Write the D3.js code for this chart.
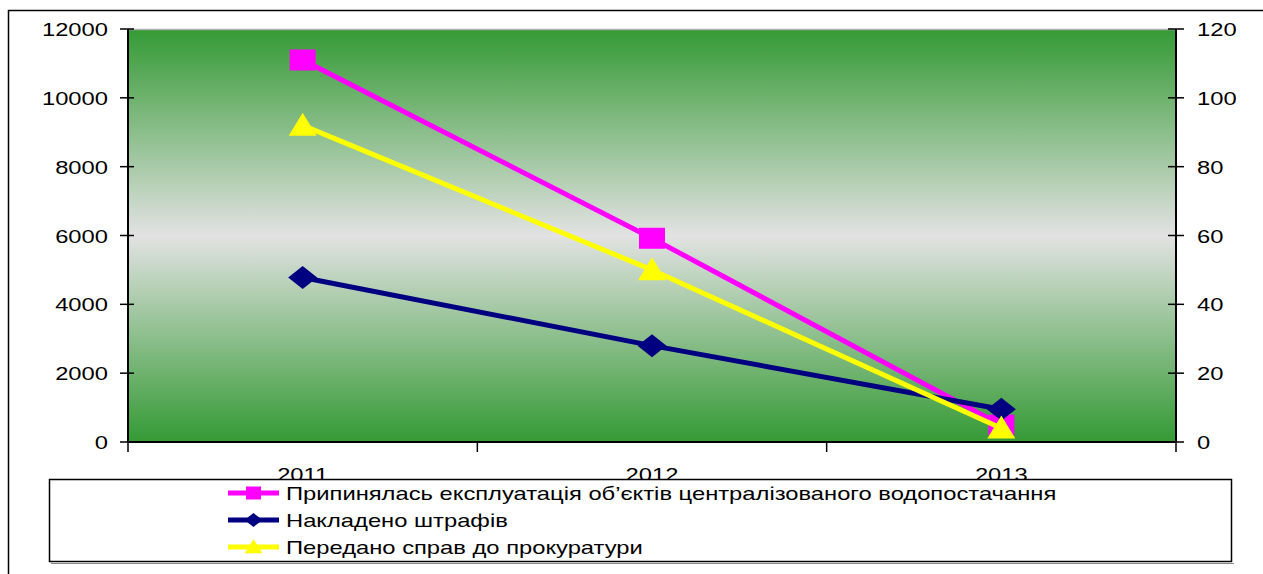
<!DOCTYPE html>
<html><head><meta charset="utf-8">
<script src="https://cdn.jsdelivr.net/npm/d3@7"></script>
<style>html,body{margin:0;padding:0;background:#fff;}svg{display:block;}</style>
</head><body>
<script>
const categories = ["2011", "2012", "2013"];
const seriesNames = [
  "Припинялась експлуатація об’єктів централізованого водопостачання",
  "Накладено штрафів",
  "Передано справ до прокуратури"
];
const stoppedValues = [11100, 5920, 490];   // left axis
const finesValues = [4780, 2800, 950];      // left axis
const casesValues = [92, 50, 4];            // right axis
const leftTicks = [0, 2000, 4000, 6000, 8000, 10000, 12000];
const rightTicks = [0, 20, 40, 60, 80, 100, 120];

const W = 1263, H = 574;
const plot = {x0: 128, x1: 1176, y0: 29, y1: 442};
const SX = 1.25;
const FONT = "'Liberation Sans', Arial, sans-serif";

const svg = d3.select("body").append("svg").attr("width", W).attr("height", H);

// outer border
svg.append("rect").attr("x", 8.5).attr("y", 10.5).attr("width", W + 20).attr("height", H + 20)
  .attr("fill", "#fff").attr("stroke", "#000").attr("stroke-width", 1.5);

const defs = svg.append("defs");
const grad = defs.append("linearGradient").attr("id", "bg").attr("x1", 0).attr("y1", 0).attr("x2", 0).attr("y2", 1);
grad.append("stop").attr("offset", "0%").attr("stop-color", "#349a34");
grad.append("stop").attr("offset", "50%").attr("stop-color", "#e2e2e2");
grad.append("stop").attr("offset", "100%").attr("stop-color", "#349a34");

const x = d3.scaleBand().domain(categories).range([plot.x0, plot.x1]);
const yL = d3.scaleLinear().domain([0, 12000]).range([plot.y1, plot.y0]);
const yR = d3.scaleLinear().domain([0, 120]).range([plot.y1, plot.y0]);

svg.append("rect").attr("x", plot.x0).attr("y", plot.y0)
  .attr("width", plot.x1 - plot.x0).attr("height", plot.y1 - plot.y0).attr("fill", "url(#bg)");
svg.append("line").attr("x1", plot.x0).attr("x2", plot.x1).attr("y1", plot.y0 + 0.5).attr("y2", plot.y0 + 0.5)
  .attr("stroke", "#b0b0b0").attr("stroke-width", 1.5);

function stretchedText(g, tx, ty, str, anchor) {
  return g.append("text")
    .attr("transform", `translate(${tx},${ty}) scale(${SX},1)`)
    .attr("text-anchor", anchor || "start")
    .attr("font-family", FONT).attr("font-size", 19).attr("fill", "#000")
    .text(str);
}

// left axis
const axG = svg.append("g");
axG.append("line").attr("x1", plot.x0).attr("x2", plot.x0).attr("y1", plot.y0).attr("y2", plot.y1)
  .attr("stroke", "#000").attr("stroke-width", 2);
leftTicks.forEach(t => {
  axG.append("line").attr("x1", plot.x0 - 8).attr("x2", plot.x0 + 6).attr("y1", yL(t)).attr("y2", yL(t))
    .attr("stroke", "#000").attr("stroke-width", 1.5);
  stretchedText(axG, 108, yL(t) + 7, String(t), "end");
});
// right axis
axG.append("line").attr("x1", plot.x1).attr("x2", plot.x1).attr("y1", plot.y0).attr("y2", plot.y1)
  .attr("stroke", "#000").attr("stroke-width", 2);
rightTicks.forEach(t => {
  axG.append("line").attr("x1", plot.x1 - 8).attr("x2", plot.x1 + 8).attr("y1", yR(t)).attr("y2", yR(t))
    .attr("stroke", "#000").attr("stroke-width", 1.5);
  stretchedText(axG, 1197, yR(t) + 7, String(t), "start");
});
// bottom axis
axG.append("line").attr("x1", plot.x0).attr("x2", plot.x1).attr("y1", plot.y1).attr("y2", plot.y1)
  .attr("stroke", "#000").attr("stroke-width", 2);
const bounds = categories.map(c => x(c)).concat([plot.x1]);
bounds.forEach(b => {
  axG.append("line").attr("x1", b).attr("x2", b).attr("y1", plot.y1).attr("y2", plot.y1 + 10)
    .attr("stroke", "#000").attr("stroke-width", 1.5);
});
categories.forEach(c => stretchedText(axG, x(c) + x.bandwidth() / 2, 481, c, "middle"));

const cx = c => x(c) + x.bandwidth() / 2;

function marker(g, type, px, py, w, h, color) {
  if (type === "square") {
    g.append("rect").attr("x", px - w / 2).attr("y", py - h / 2).attr("width", w).attr("height", h).attr("fill", color);
  } else if (type === "diamond") {
    g.append("path").attr("d", `M${px},${py - h / 2}L${px + w / 2},${py}L${px},${py + h / 2}L${px - w / 2},${py}Z`).attr("fill", color);
  } else {
    g.append("path").attr("d", `M${px},${py - h * 0.55}L${px + w / 2},${py + h * 0.45}L${px - w / 2},${py + h * 0.45}Z`).attr("fill", color);
  }
}

const series = [
  {name: seriesNames[0], vals: stoppedValues, y: yL, color: "#ff00ff", type: "square", w: 26, h: 21},
  {name: seriesNames[1], vals: finesValues, y: yL, color: "#000080", type: "diamond", w: 29, h: 23},
  {name: seriesNames[2], vals: casesValues, y: yR, color: "#ffff00", type: "triangle", w: 28, h: 23}
];

const lineG = svg.append("g");
series.forEach(s => {
  const pts = categories.map((c, i) => [cx(c), s.y(s.vals[i])]);
  lineG.append("path").attr("d", d3.line()(pts)).attr("fill", "none")
    .attr("stroke", s.color).attr("stroke-width", 5).attr("stroke-linejoin", "round");
  pts.forEach(p => marker(lineG, s.type, p[0], p[1], s.w, s.h, s.color));
});

// legend
const lg = svg.append("g");
lg.append("line").attr("x1", 51).attr("x2", 1234).attr("y1", 563.5).attr("y2", 563.5).attr("stroke", "#888").attr("stroke-width", 1);
lg.append("rect").attr("x", 49.5).attr("y", 479.5).attr("width", 1182).attr("height", 82)
  .attr("fill", "#fff").attr("stroke", "#000").attr("stroke-width", 1.5);
const rowsY = [493, 520, 547];
series.forEach((s, i) => {
  const yy = rowsY[i];
  lg.append("line").attr("x1", 228).attr("x2", 279).attr("y1", yy).attr("y2", yy)
    .attr("stroke", s.color).attr("stroke-width", 5);
  marker(lg, s.type, 253.5, yy, s.type === "square" ? 15 : 18, s.type === "square" ? 13 : 14, s.color);
  stretchedText(lg, 286, yy + 7, s.name, "start");
});
</script>
</body></html>
